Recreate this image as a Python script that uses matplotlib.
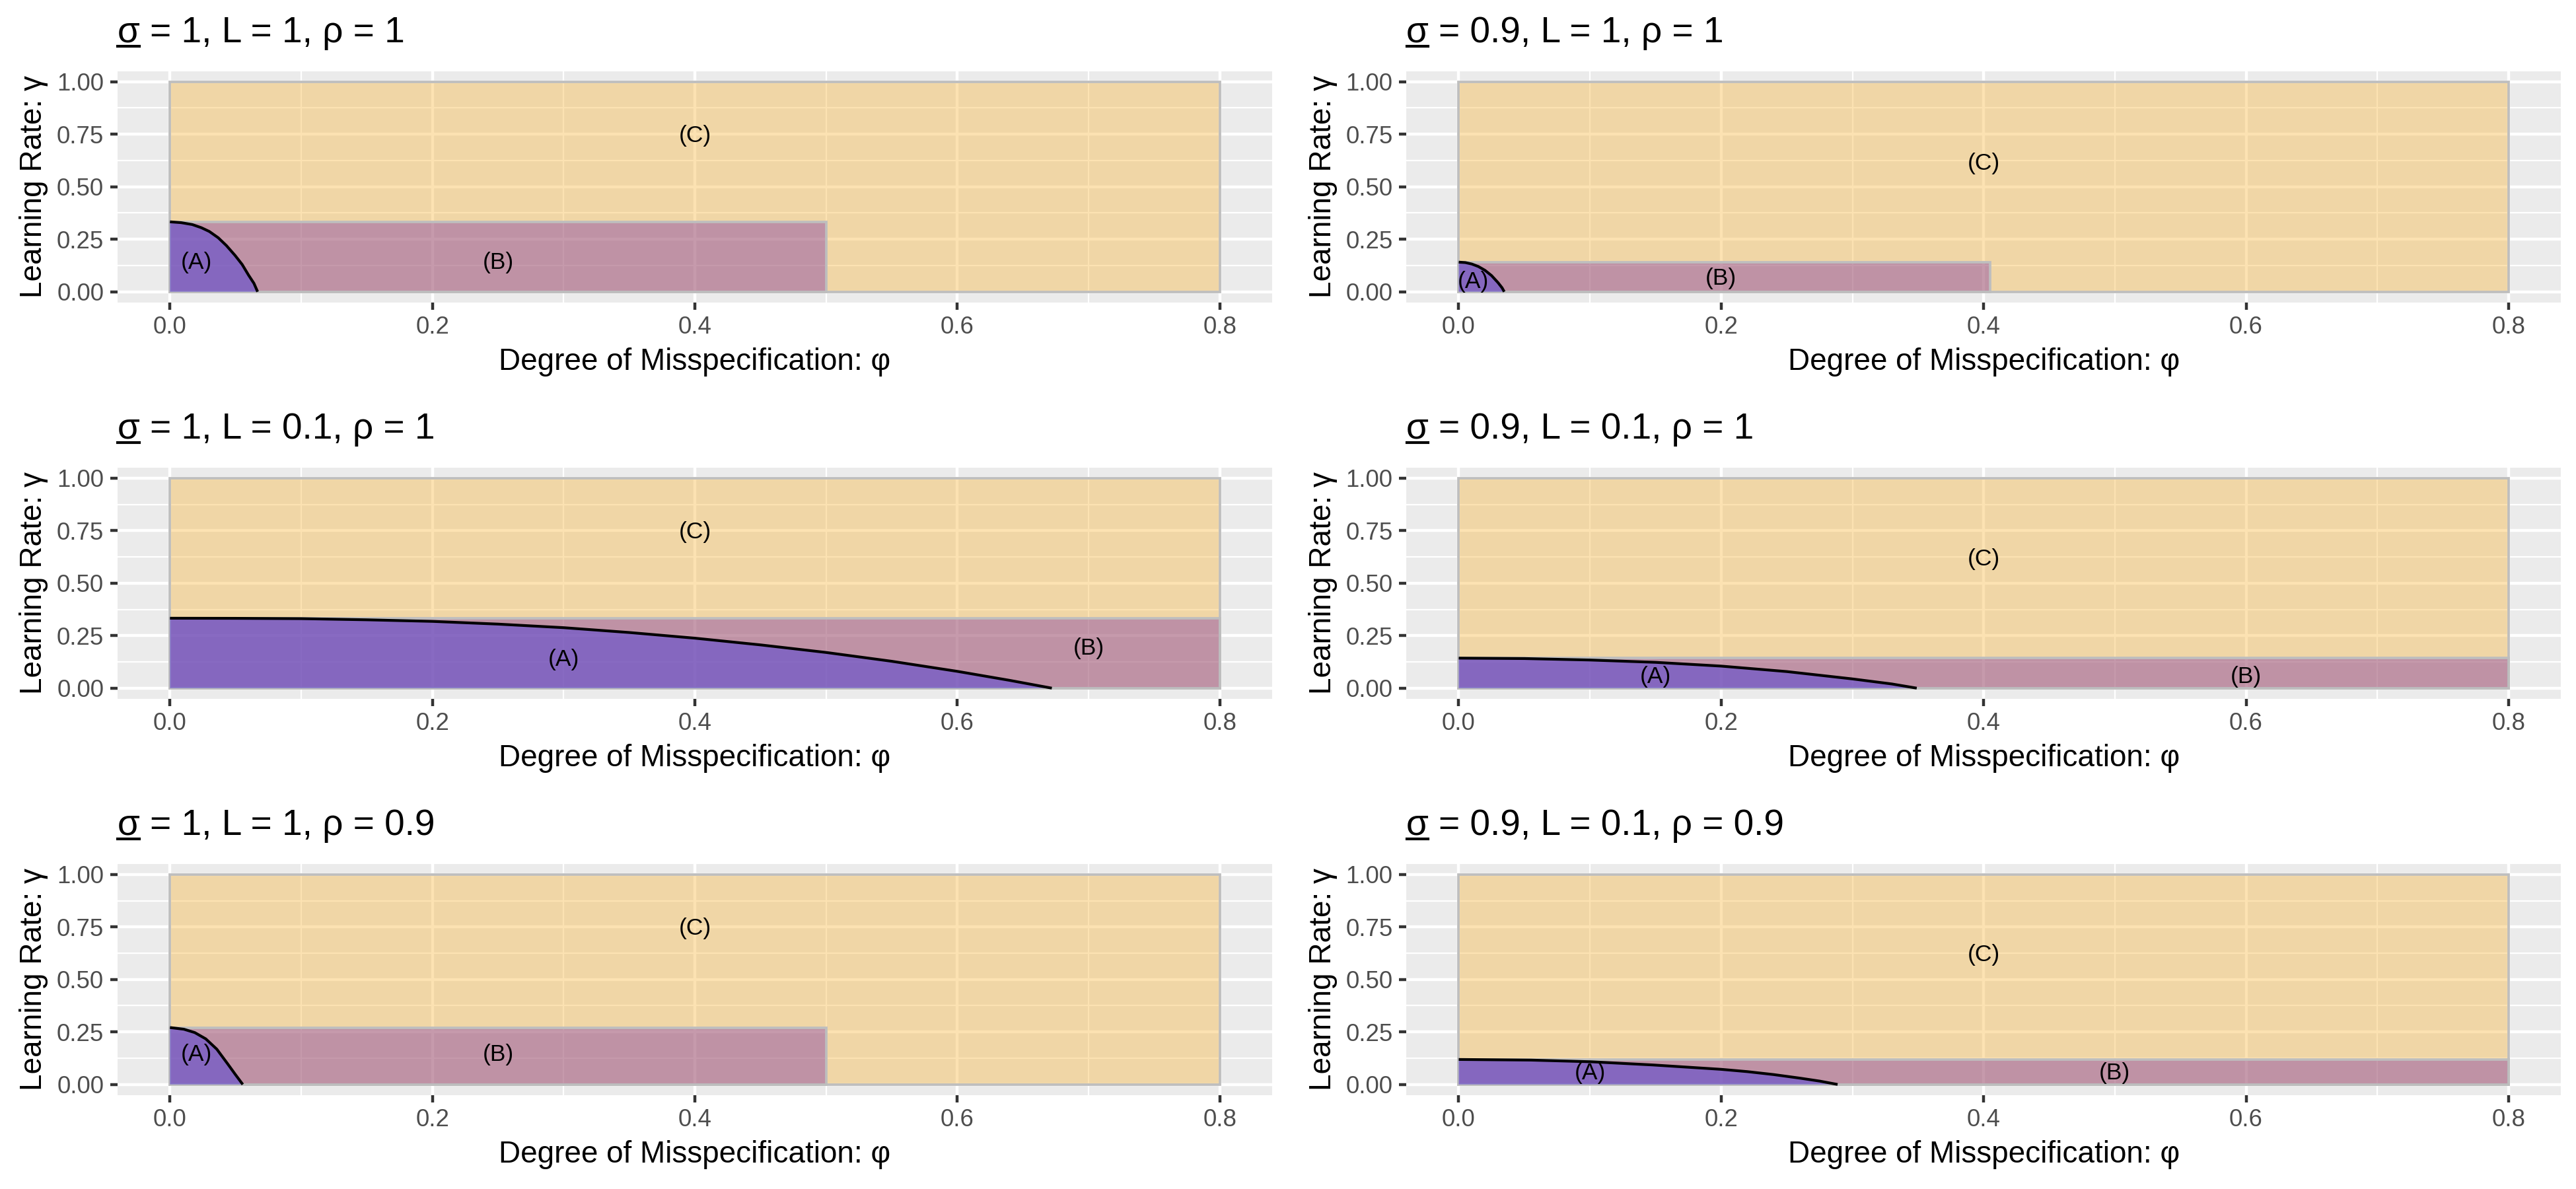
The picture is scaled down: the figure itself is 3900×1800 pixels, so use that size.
import matplotlib
matplotlib.use("Agg")
import matplotlib.pyplot as plt
from matplotlib.lines import Line2D
from matplotlib.patches import Rectangle
from matplotlib.ticker import FixedLocator

plt.rcParams['font.family'] = ['Liberation Sans', 'DejaVu Sans']

# ---------------- data ----------------
sigma_vals = ["1", "0.9", "1", "0.9", "1", "0.9"]
L_vals = ["1", "1", "0.1", "0.1", "1", "0.1"]
rho_vals = ["1", "1", "1", "1", "0.9", "0.9"]

# region (B) rectangle: width in phi and height in gamma
b_width = [0.5, 0.405, 0.8, 0.8, 0.5, 0.8]
b_height = [0.333, 0.141, 0.333, 0.143, 0.271, 0.119]
c_width = [0.8] * 6
c_height = [1.0] * 6

# boundary curves of region (A)
curve_phi = [
    [0, 0.0085, 0.0170, 0.0239, 0.0300, 0.0368, 0.0430, 0.0496, 0.0550, 0.0599, 0.0640, 0.0668],
    [0, 0.005, 0.010, 0.015, 0.020, 0.025, 0.030, 0.0330, 0.0347],
    [0, 0.05, 0.1, 0.15, 0.2, 0.25, 0.3, 0.35, 0.4, 0.45, 0.5, 0.55, 0.6, 0.64, 0.672],
    [0, 0.05, 0.1, 0.15, 0.2, 0.25, 0.3, 0.33, 0.349],
    [0, 0.0106, 0.0189, 0.0273, 0.0357, 0.0441, 0.0500, 0.0555],
    [0, 0.055, 0.101, 0.1475, 0.2, 0.22, 0.24, 0.26, 0.275, 0.2887],
]
curve_gamma = [
    [0.333, 0.329, 0.320, 0.305, 0.287, 0.257, 0.220, 0.173, 0.130, 0.079, 0.040, 0],
    [0.141, 0.139, 0.132, 0.120, 0.102, 0.077, 0.043, 0.019, 0],
    [0.333, 0.3325, 0.331, 0.3255, 0.318, 0.305, 0.288, 0.265, 0.238, 0.206, 0.170,
     0.128, 0.080, 0.037, 0],
    [0.143, 0.141, 0.134, 0.123, 0.105, 0.079, 0.044, 0.020, 0],
    [0.271, 0.263, 0.247, 0.217, 0.168, 0.097, 0.046, 0],
    [0.119, 0.116, 0.108, 0.093, 0.072, 0.061, 0.047, 0.030, 0.016, 0],
]

# label positions (A), (B), (C)
lab_text = ["(A)", "(B)", "(C)"]
lab_x = [
    [0.02, 0.25, 0.4],
    [0.011, 0.2, 0.4],
    [0.30, 0.70, 0.4],
    [0.15, 0.60, 0.4],
    [0.02, 0.25, 0.4],
    [0.10, 0.50, 0.4],
]
lab_y = [
    [0.14, 0.14, 0.742],
    [0.048, 0.062, 0.612],
    [0.136, 0.19, 0.742],
    [0.053, 0.053, 0.614],
    [0.143, 0.143, 0.742],
    [0.053, 0.053, 0.617],
]

x_ticks = [0.0, 0.2, 0.4, 0.6, 0.8]
x_ticklabels = ["0.0", "0.2", "0.4", "0.6", "0.8"]
y_ticks = [0.0, 0.25, 0.5, 0.75, 1.0]
y_ticklabels = ["0.00", "0.25", "0.50", "0.75", "1.00"]
x_minor = [0.1, 0.3, 0.5, 0.7]
y_minor = [0.125, 0.375, 0.625, 0.875]

xlabel = "Degree of Misspecification: φ"
ylabel = "Learning Rate: γ"

# ---------------- style ----------------
col_C, a_C = (248/255, 183/255, 63/255), 0.40
col_B, a_B = (118/255, 46/255, 164/255), 0.40
col_A, a_A = (103/255, 81/255, 206/255), 0.65
edge_col = "#BEBEBE"

fig = plt.figure(figsize=(13, 6), dpi=300)

lefts = [0.0456, 0.5459]
bottoms = [0.7458, 0.4124, 0.0791]
W, H = 0.4483, 0.1943

axes = []
for i in range(6):
    r, c = divmod(i, 2)
    ax = fig.add_axes([lefts[c], bottoms[r], W, H])
    axes.append(ax)
    ax.set_facecolor("#EBEBEB")
    for s in ax.spines.values():
        s.set_visible(False)
    ax.set_xlim(-0.04, 0.84)
    ax.set_ylim(-0.05, 1.05)
    ax.set_axisbelow(True)
    ax.xaxis.set_major_locator(FixedLocator(x_ticks))
    ax.yaxis.set_major_locator(FixedLocator(y_ticks))
    ax.set_xticklabels(x_ticklabels)
    ax.set_yticklabels(y_ticklabels)
    ax.xaxis.set_minor_locator(FixedLocator(x_minor))
    ax.yaxis.set_minor_locator(FixedLocator(y_minor))
    ax.grid(which="major", color="white", linewidth=1.07)
    ax.grid(which="minor", color="white", linewidth=0.53)
    ax.tick_params(which="major", length=2.75, width=1.07, color="#333333",
                   labelcolor="#4D4D4D", labelsize=8.8, pad=2.2)
    ax.tick_params(which="minor", length=0)

    ax.add_patch(Rectangle((0, 0), c_width[i], c_height[i], facecolor=(*col_C, a_C),
                           edgecolor=edge_col, linewidth=0.9, zorder=2))
    ax.add_patch(Rectangle((0, 0), b_width[i], b_height[i], facecolor=(*col_B, a_B),
                           edgecolor=edge_col, linewidth=0.9, zorder=3))
    ax.fill_between(curve_phi[i], 0, curve_gamma[i], facecolor=(*col_A, a_A),
                    edgecolor="none", linewidth=0, zorder=4)
    ax.plot(curve_phi[i], curve_gamma[i], color="black", linewidth=1.0, zorder=5,
            solid_capstyle="butt", solid_joinstyle="round")
    for t, lx, ly in zip(lab_text, lab_x[i], lab_y[i]):
        ax.text(lx, ly, t, ha="center", va="center", fontsize=8.5, color="black", zorder=6)

    ax.set_xlabel(xlabel, fontsize=11, labelpad=3)
    ax.set_ylabel(ylabel, fontsize=11, labelpad=3)
    title = "σ = %s, L = %s, ρ = %s" % (sigma_vals[i], L_vals[i], rho_vals[i])
    ax.set_title(title, loc="left", fontsize=13.2, pad=10.5)

# underline the sigma in each title
fig.canvas.draw()
renderer = fig.canvas.get_renderer()
inv = fig.transFigure.inverted()
for ax in axes:
    t = ax._left_title
    x_disp, y_disp = t.get_transform().transform(t.get_position())
    tmp = fig.text(0, 0, "σ", fontsize=13.2)
    w = tmp.get_window_extent(renderer).width
    tmp.remove()
    y_line = y_disp - 0.11 * 13.2 * 300 / 72
    (fx0, fy), (fx1, _) = inv.transform([(x_disp + 0.5, y_line), (x_disp + w - 0.5, y_line)])
    fig.add_artist(Line2D([fx0, fx1], [fy, fy], color="black", linewidth=1.0,
                          transform=fig.transFigure))

fig.savefig("out.png", dpi=300)
